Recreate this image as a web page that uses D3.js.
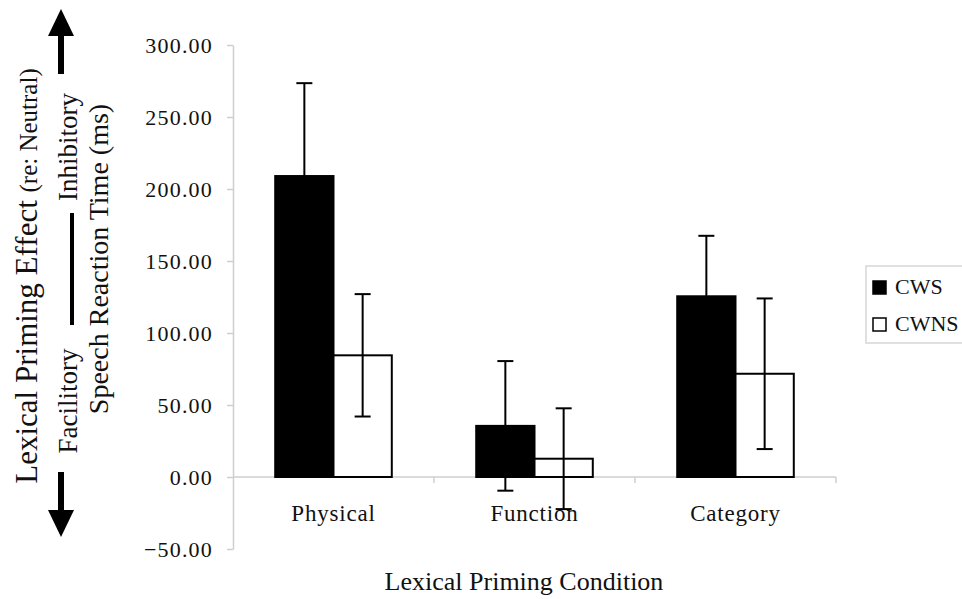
<!DOCTYPE html>
<html>
<head>
<meta charset="utf-8">
<script src="https://cdn.jsdelivr.net/npm/d3@7"></script>
<style>
  body { margin: 0; background: #fff; }
  svg, svg text { font-family: "Liberation Serif", "DejaVu Serif", serif; }
  svg { display: block; }
  .axis text { fill: #111; }
</style>
</head>
<body>
<div id="chart"></div>
<script>
const categories = ['Physical', 'Function', 'Category']
const seriesNames = ['CWS', 'CWNS']
const cwsMeans = [209, 35.5, 125.5]
const cwsErrors = [64.5, 45, 42]
const cwnsMeans = [84.5, 12.7, 71.7]
const cwnsErrors = [42.5, 35, 52.3]
const yTicks = [-50, 0, 50, 100, 150, 200, 250, 300]

const width = 962, height = 599
const axisGrey = '#cfcfcf'
const ink = '#111'

const svg = d3.select('#chart')
    .append('svg')
    .attr('width', width)
    .attr('height', height)

const x = d3.scaleBand().domain(categories).range([233, 836])
const inner = d3.scaleBand().domain(seriesNames)
    .range([x.bandwidth() * 0.21, x.bandwidth() * 0.79])
const y = d3.scaleLinear().domain([-50, 300]).range([549, 45])

// y axis
const yAxis = d3.axisLeft(y)
    .tickValues(yTicks)
    .tickFormat(d3.format('.2f'))
    .tickSize(6)
    .tickSizeOuter(0)
    .tickPadding(14)

const yg = svg.append('g')
    .attr('class', 'axis')
    .attr('transform', 'translate(' + x.range()[0] + ',0)')
    .call(yAxis)
    .attr('font-family', null)
yg.selectAll('path, line').attr('stroke', axisGrey).attr('stroke-width', 1.5)
yg.selectAll('text').attr('font-size', 22).attr('letter-spacing', 1.2)

// zero line with boundary ticks
const xg = svg.append('g')
xg.append('line')
    .attr('x1', x.range()[0]).attr('x2', x.range()[1])
    .attr('y1', y(0)).attr('y2', y(0))
    .attr('stroke', axisGrey).attr('stroke-width', 1.5)
const bounds = categories.map(c => x(c)).concat([x.range()[1]])
xg.selectAll('line.bound')
    .data(bounds.slice(1))
    .enter().append('line')
    .attr('class', 'bound')
    .attr('x1', d => d).attr('x2', d => d)
    .attr('y1', y(0)).attr('y2', y(0) + 6)
    .attr('stroke', axisGrey).attr('stroke-width', 1.5)

// category labels
const xLabels = svg.append('g')
    .attr('class', 'axis')
    .attr('transform', 'translate(0,' + y(0) + ')')
    .call(d3.axisBottom(x).tickSize(0).tickPadding(28))
    .attr('font-family', null)
xLabels.select('.domain').remove()
xLabels.selectAll('text').attr('font-size', 23).attr('letter-spacing', 0.8)

// bars
const rows = categories.map((c, i) => ({
  cat: c,
  vals: [
    { s: 'CWS', mean: cwsMeans[i], err: cwsErrors[i] },
    { s: 'CWNS', mean: cwnsMeans[i], err: cwnsErrors[i] }
  ]
}))

const groups = svg.selectAll('g.cat')
    .data(rows)
    .enter().append('g')
    .attr('class', 'cat')
    .attr('transform', d => 'translate(' + x(d.cat) + ',0)')

groups.selectAll('rect')
    .data(d => d.vals)
    .enter().append('rect')
    .attr('x', d => inner(d.s))
    .attr('width', inner.bandwidth())
    .attr('y', d => y(d.mean))
    .attr('height', d => y(0) - y(d.mean))
    .attr('fill', d => d.s === 'CWS' ? '#000' : '#fff')
    .attr('stroke', '#000')
    .attr('stroke-width', 2)

// error bars
const err = groups.selectAll('g.err')
    .data(d => d.vals)
    .enter().append('g')
    .attr('class', 'err')
    .attr('stroke', '#000')
    .attr('stroke-width', 2)
const cx = d => inner(d.s) + inner.bandwidth() / 2
err.append('line')
    .attr('x1', cx).attr('x2', cx)
    .attr('y1', d => y(d.mean + d.err)).attr('y2', d => y(d.mean - d.err))
err.append('line')
    .attr('x1', d => cx(d) - 8).attr('x2', d => cx(d) + 8)
    .attr('y1', d => y(d.mean + d.err)).attr('y2', d => y(d.mean + d.err))
err.append('line')
    .attr('x1', d => cx(d) - 8).attr('x2', d => cx(d) + 8)
    .attr('y1', d => y(d.mean - d.err)).attr('y2', d => y(d.mean - d.err))

// x title
svg.append('text')
    .attr('x', 524).attr('y', 590)
    .attr('text-anchor', 'middle')
    .attr('font-size', 26)
    .attr('fill', ink)
    .text('Lexical Priming Condition')

// y titles
const t1 = svg.append('text')
    .attr('transform', 'translate(37,276) rotate(-90)')
    .attr('text-anchor', 'middle')
    .attr('fill', ink)
t1.append('tspan').attr('font-size', 31).text('Lexical Priming Effect ')
t1.append('tspan').attr('font-size', 25).text('(re: Neutral)')

svg.append('text')
    .attr('transform', 'translate(108,259) rotate(-90)')
    .attr('text-anchor', 'middle')
    .attr('font-size', 28)
    .attr('fill', ink)
    .text('Speech Reaction Time (ms)')

svg.append('text')
    .attr('transform', 'translate(77,147) rotate(-90)')
    .attr('text-anchor', 'middle')
    .attr('font-size', 27)
    .attr('fill', ink)
    .text('Inhibitory')

svg.append('text')
    .attr('transform', 'translate(77,401) rotate(-90)')
    .attr('text-anchor', 'middle')
    .attr('font-size', 27)
    .attr('fill', ink)
    .text('Facilitory')

// dash between Facilitory and Inhibitory
svg.append('line')
    .attr('x1', 72).attr('x2', 72)
    .attr('y1', 213).attr('y2', 325)
    .attr('stroke', '#000').attr('stroke-width', 4)

// arrows
const arrows = svg.append('g').attr('fill', '#000')
arrows.append('rect').attr('x', 58).attr('y', 34).attr('width', 6).attr('height', 40)
arrows.append('path').attr('d', 'M61,9 L74,36 L48,36 Z')
arrows.append('rect').attr('x', 58).attr('y', 472).attr('width', 6).attr('height', 40)
arrows.append('path').attr('d', 'M61,537 L74,510 L48,510 Z')

// legend
const legend = svg.append('g')
legend.append('rect')
    .attr('x', 866).attr('y', 266).attr('width', 110).attr('height', 77)
    .attr('fill', '#fff').attr('stroke', '#d6d6d6').attr('stroke-width', 1.5)
const items = legend.selectAll('g.item')
    .data(seriesNames)
    .enter().append('g')
    .attr('class', 'item')
    .attr('transform', (d, i) => 'translate(873,' + (281 + i * 37) + ')')
items.append('rect')
    .attr('width', 13).attr('height', 13)
    .attr('fill', d => d === 'CWS' ? '#000' : '#fff')
    .attr('stroke', '#000').attr('stroke-width', 1.5)
items.append('text')
    .attr('x', 22).attr('y', 13)
    .attr('font-size', 22)
    .attr('fill', ink)
    .text(d => d)
</script>
</body>
</html>
